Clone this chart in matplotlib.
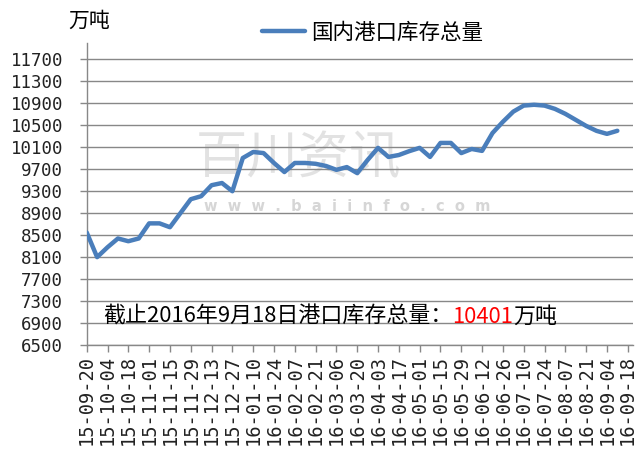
import matplotlib
matplotlib.use("Agg")
import matplotlib.pyplot as plt
from matplotlib.lines import Line2D

# weekly port inventory, 10k tonnes
stock = [8550, 8100, 8280, 8440, 8390, 8440, 8715, 8715, 8645, 8900,
         9155, 9210, 9410, 9450, 9300, 9905, 10015, 9995, 9815, 9650,
         9815, 9815, 9800, 9760, 9690, 9740, 9630, 9870, 10090, 9925,
         9960, 10030, 10090, 9925, 10180, 10180, 9995, 10070, 10035, 10360,
         10565, 10750, 10860, 10875, 10860, 10800, 10710, 10600, 10490, 10400,
         10345, 10401]
date_labels = ["15-09-20", "15-10-04", "15-10-18", "15-11-01", "15-11-15",
               "15-11-29", "15-12-13", "15-12-27", "16-01-10", "16-01-24",
               "16-02-07", "16-02-21", "16-03-06", "16-03-20", "16-04-03",
               "16-04-17", "16-05-01", "16-05-15", "16-05-29", "16-06-12",
               "16-06-26", "16-07-10", "16-07-24", "16-08-07", "16-08-21",
               "16-09-04", "16-09-18"]
y_ticks = list(range(6500, 11701, 400))
latest = "10401"

CJK = ["Noto Sans CJK SC", "DejaVu Sans"]
MONO = ["DejaVu Sans Mono", "DejaVu Sans"]
BLUE = "#4A7EBB"
GRID = "#888888"

fig = plt.figure(figsize=(6.39, 4.53), dpi=100)
ax = fig.add_axes([0.1357, 0.2384, 0.8545, 0.6667])

ax.plot(range(len(stock)), stock, color=BLUE, linewidth=3.2,
        solid_joinstyle="round", solid_capstyle="round", zorder=3)

ax.set_xlim(0, 52.48)
ax.set_ylim(6500, 12000)
ax.set_xticks(range(0, 2 * len(date_labels), 2))
ax.set_xticklabels(date_labels, rotation=90, family=MONO, fontsize=13.5, color="#222222")
ax.set_yticks(y_ticks)
ax.set_yticklabels([str(v) for v in y_ticks], family=MONO, fontsize=12.5, color="#222222")
ax.tick_params(axis="x", direction="out", length=5, width=1, color=GRID, pad=2)
ax.tick_params(axis="y", direction="out", length=5, width=1, color=GRID, pad=12)

ax.grid(axis="y", color=GRID, linewidth=1.0, zorder=0)
for side in ("top", "right"):
    ax.spines[side].set_visible(False)
for side in ("left", "bottom"):
    ax.spines[side].set_color(GRID)
    ax.spines[side].set_linewidth(1.0)

# watermark
ax.text(0.20, 0.62, "百川资讯", transform=ax.transAxes, family=CJK, fontsize=37,
        fontweight="light", color="#e2e2e2", va="center", ha="left", zorder=1)
ax.text(0.215, 0.46, "w  w  w  .  b  a  i  i  n  f  o  .  c  o  m", transform=ax.transAxes,
        family=["DejaVu Sans"], fontsize=10.5, fontweight="bold", color="#d6d6d6",
        va="center", ha="left", zorder=1)

# unit label and legend
fig.text(68 / 639, 1 - 21 / 453, "万吨", family=CJK, fontsize=15, va="center", ha="left")
handle = Line2D([], [], color=BLUE, linewidth=3.2, solid_capstyle="round")
fig.legend([handle], ["国内港口库存总量"], loc="center left",
           bbox_to_anchor=(262 / 639, 1 - 33 / 453), frameon=False,
           prop={"family": CJK, "size": 15.5}, handlelength=2.0,
           handletextpad=0.3, borderpad=0, borderaxespad=0)

# annotation with the latest figure in red
renderer = fig.canvas.get_renderer()
x_px, y_fig = 103, 1 - 317 / 453
for part, color in [("截止2016年9月18日港口库存总量：", "black"), (latest, "red"), ("万吨", "black")]:
    t = fig.text(x_px / 639, y_fig, part, family=CJK, fontsize=15.8, color=color,
                 va="center", ha="left", zorder=5)
    x_px = t.get_window_extent(renderer).x1

fig.savefig("out.png", dpi=100, facecolor="white")
print("saved out.png")
